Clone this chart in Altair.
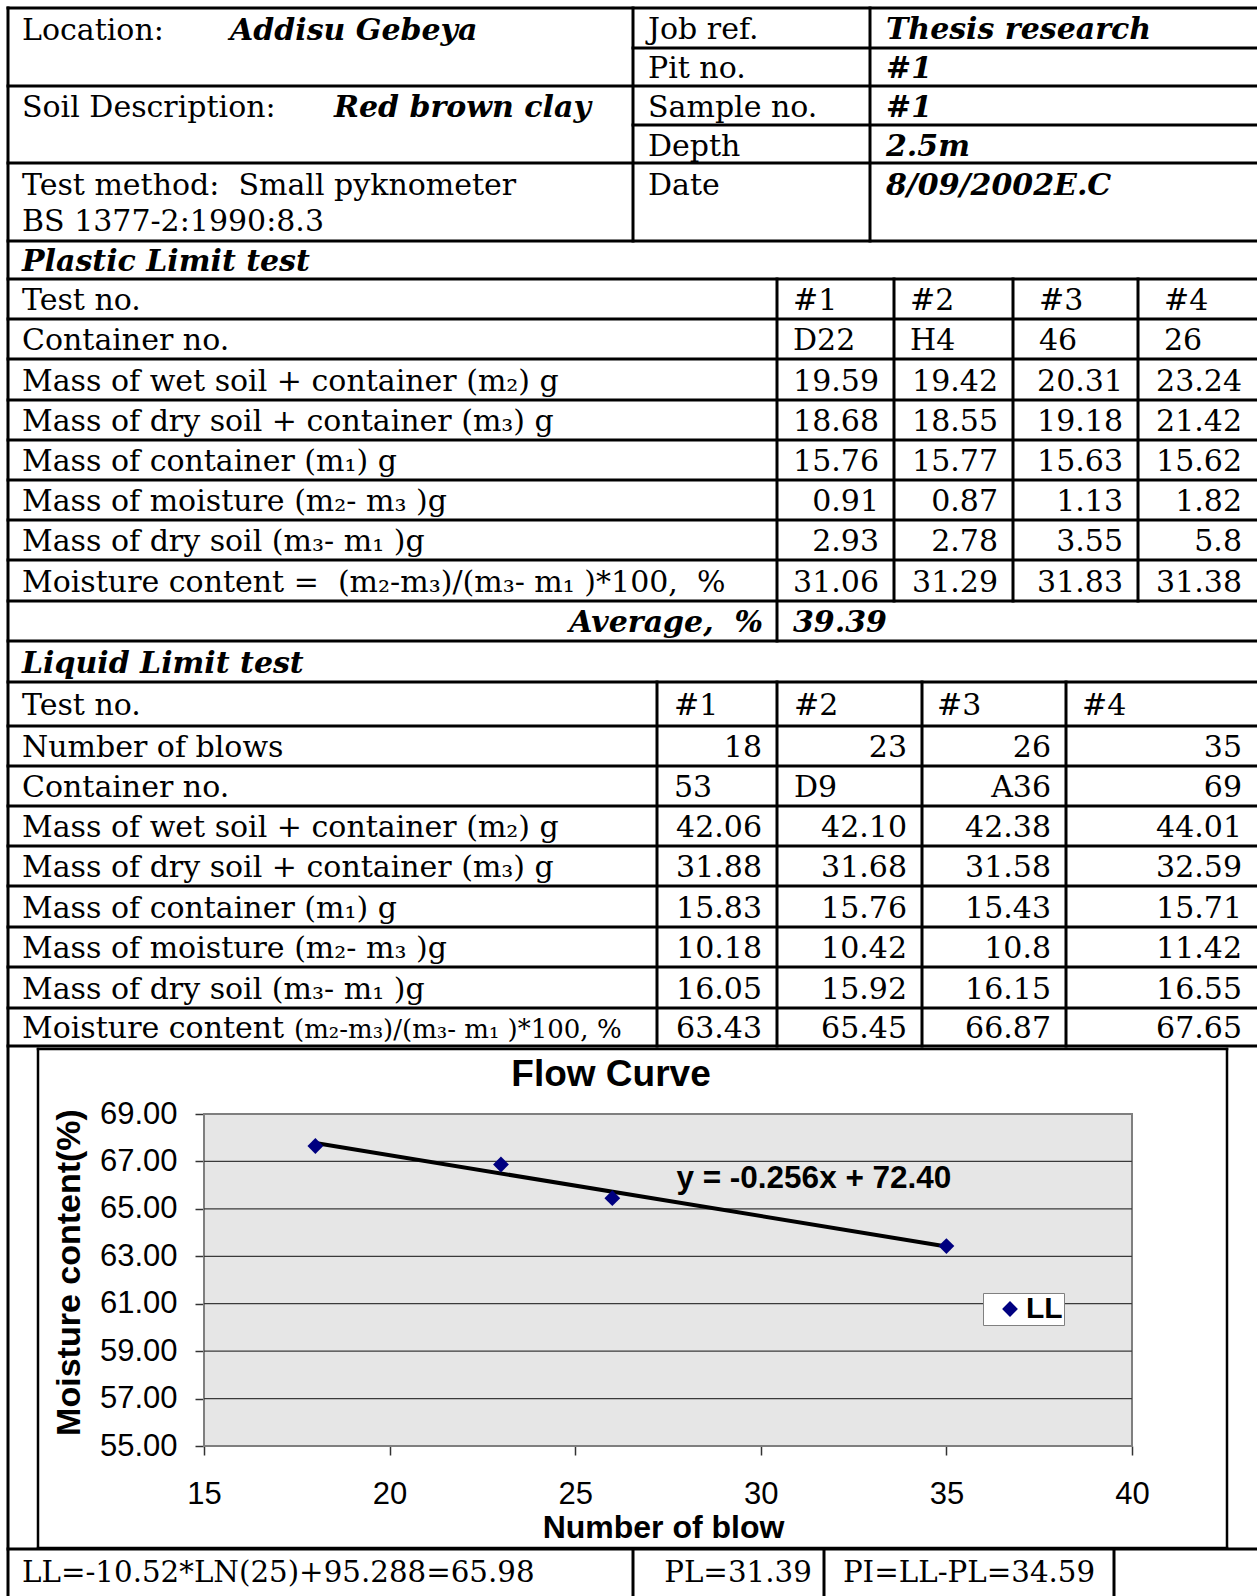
import altair as alt
import pandas as pd

# ---------------------------------------------------------------- data
location_label = "Location:"
location_value = "Addisu Gebeya"
soil_label = "Soil Description:"
soil_value = "Red brown clay"
method_lines = ["Test method:\u00a0 Small pyknometer", "BS 1377-2:1990:8.3"]
info_labels = ["Job ref.", "Pit no.", "Sample no.", "Depth", "Date"]
info_values = ["Thesis research", "#1", "#1", "2.5m", "8/09/2002E.C"]

pl_title = "Plastic Limit test"
pl_labels = [
    "Test no.",
    "Container no.",
    "Mass of wet soil + container (m\u2082) g",
    "Mass of dry soil + container (m\u2083) g",
    "Mass of container (m\u2081) g",
    "Mass of moisture (m\u2082- m\u2083 )g",
    "Mass of dry soil (m\u2083- m\u2081 )g",
    "Moisture content =\u00a0 (m\u2082-m\u2083)/(m\u2083- m\u2081 )*100,\u00a0 %",
]
pl_test_no = ["#1", "#2", "#3", "#4"]
pl_container = ["D22", "H4", "46", "26"]
pl_wet = ["19.59", "19.42", "20.31", "23.24"]
pl_dry = ["18.68", "18.55", "19.18", "21.42"]
pl_cont_mass = ["15.76", "15.77", "15.63", "15.62"]
pl_moisture = ["0.91", "0.87", "1.13", "1.82"]
pl_dry_soil = ["2.93", "2.78", "3.55", "5.8"]
pl_mc = ["31.06", "31.29", "31.83", "31.38"]
pl_average_label = "Average,\u00a0 %"
pl_average = "39.39"

ll_title = "Liquid Limit test"
ll_labels = [
    "Test no.",
    "Number of blows",
    "Container no.",
    "Mass of wet soil + container (m\u2082) g",
    "Mass of dry soil + container (m\u2083) g",
    "Mass of container (m\u2081) g",
    "Mass of moisture (m\u2082- m\u2083 )g",
    "Mass of dry soil (m\u2083- m\u2081 )g",
    "Moisture content",
]
ll_mc_formula = "(m\u2082-m\u2083)/(m\u2083- m\u2081 )*100, %"
ll_test_no = ["#1", "#2", "#3", "#4"]
ll_blows = ["18", "23", "26", "35"]
ll_container = ["53", "D9", "A36", "69"]
ll_wet = ["42.06", "42.10", "42.38", "44.01"]
ll_dry = ["31.88", "31.68", "31.58", "32.59"]
ll_cont_mass = ["15.83", "15.76", "15.43", "15.71"]
ll_moisture = ["10.18", "10.42", "10.8", "11.42"]
ll_dry_soil = ["16.05", "15.92", "16.15", "16.55"]
ll_mc = ["63.43", "65.45", "66.87", "67.65"]

chart_title = "Flow Curve"
x_title = "Number of blow"
y_title = "Moisture content(%)"
x_ticks = [15, 20, 25, 30, 35, 40]
y_ticks = [55, 57, 59, 61, 63, 65, 67, 69]
curve_blows = [18, 23, 26, 35]
curve_mc = [67.65, 66.87, 65.45, 63.43]
series_name = "LL"
trend_label = "y = -0.256x + 72.40"
footer = ["LL=-10.52*LN(25)+95.288=65.98", "PL=31.39", "PI=LL-PL=34.59"]

# ---------------------------------------------------------------- layout (px)
W, H = 1257, 1596
LEFT = 8
TXT = 22
HDR_COLS = [633, 870]
HDR_ROWS_FULL = [8, 86, 163, 241]
HDR_ROWS_RIGHT = [48, 125]
INFO_Y = [28, 67, 106, 145, 184]
PL_ROWS = [279, 319, 359, 400, 440, 480, 520, 560, 601, 641]
PL_COLS = [777, 894, 1013, 1138, W]
PL_LPAD = [16, 16, 26, 26]
LL_ROWS = [682, 726, 766, 806, 846, 886, 927, 967, 1008, 1046]
LL_COLS = [657, 777, 922, 1066, W]
LL_LPAD = [17, 17, 15, 16]
RPAD = 15
FOOT_Y = 1549
FOOT_COLS = [633, 824, 1114]
FRAME = (38, 1049, 1227, 1548)
PLOT = (204, 1114, 1132, 1446)   # left, top, right, bottom
SERIF = "DejaVu Serif"
SANS = "Liberation Sans"
FS = 30

# ---------------------------------------------------------------- table lines
rules = []
def hline(y, xa, xb, w=3):
    rules.append(dict(px=xa, px2=xb, py=y, py2=y, w=w))
def vline(x, ya, yb, w=3):
    rules.append(dict(px=x, px2=x, py=ya, py2=yb, w=w))

for y in HDR_ROWS_FULL:
    hline(y, LEFT, W)
for y in HDR_ROWS_RIGHT:
    hline(y, HDR_COLS[0], W)
for x in HDR_COLS:
    vline(x, HDR_ROWS_FULL[0], HDR_ROWS_FULL[-1])
vline(LEFT, HDR_ROWS_FULL[0], H)
for y in PL_ROWS:
    hline(y, LEFT, W)
vline(PL_COLS[0], PL_ROWS[0], PL_ROWS[-1])
for x in PL_COLS[1:-1]:
    vline(x, PL_ROWS[0], PL_ROWS[-2])
for y in LL_ROWS:
    hline(y, LEFT, W)
for x in LL_COLS[:-1]:
    vline(x, LL_ROWS[0], LL_ROWS[-1])
hline(FOOT_Y, LEFT, W)
for x in FOOT_COLS:
    vline(x, FOOT_Y, H)
fx0, fy0, fx1, fy1 = FRAME
hline(fy0, fx0, fx1, 2.5)
hline(fy1, fx0, fx1, 2.5)
vline(fx0, fy0, fy1, 2.5)
vline(fx1, fy0, fy1, 2.5)
rules_df = pd.DataFrame(rules)

# ---------------------------------------------------------------- table text
cells = []
def add(x, y, t, s):
    cells.append(dict(px=x, py=y, text=t, style=s))

add(TXT, 29, location_label, "l")
add(230, 29, location_value, "bil")
add(TXT, 106, soil_label, "l")
add(334, 106, soil_value, "bil")
add(TXT, 184, method_lines[0], "l")
add(TXT, 220, method_lines[1], "l")
for i in range(len(info_labels)):
    add(HDR_COLS[0] + 15, INFO_Y[i], info_labels[i], "l")
    add(HDR_COLS[1] + 16, INFO_Y[i], info_values[i], "bil")

add(TXT, (HDR_ROWS_FULL[-1] + PL_ROWS[0]) / 2, pl_title, "bil")
pl_vals = [pl_test_no, pl_container, pl_wet, pl_dry, pl_cont_mass,
           pl_moisture, pl_dry_soil, pl_mc]
for r, vals in enumerate(pl_vals):
    yc = (PL_ROWS[r] + PL_ROWS[r + 1]) / 2
    add(TXT, yc, pl_labels[r], "l")
    for c, v in enumerate(vals):
        if r < 2:
            add(PL_COLS[c] + PL_LPAD[c], yc, v, "l")
        else:
            add(PL_COLS[c + 1] - RPAD, yc, v, "r")
yc = (PL_ROWS[-2] + PL_ROWS[-1]) / 2
add(PL_COLS[0] - 14, yc, pl_average_label, "bir")
add(PL_COLS[0] + 16, yc, pl_average, "bil")

add(TXT, (PL_ROWS[-1] + LL_ROWS[0]) / 2, ll_title, "bil")
ll_vals = [ll_test_no, ll_blows, ll_container, ll_wet, ll_dry, ll_cont_mass,
           ll_moisture, ll_dry_soil, ll_mc]
container_align = ["l", "l", "r", "r"]
for r, vals in enumerate(ll_vals):
    yc = (LL_ROWS[r] + LL_ROWS[r + 1]) / 2
    add(TXT, yc, ll_labels[r], "l")
    for c, v in enumerate(vals):
        al = "l" if r == 0 else ("r" if r != 2 else container_align[c])
        if al == "l":
            add(LL_COLS[c] + LL_LPAD[c], yc, v, "l")
        else:
            add(LL_COLS[c + 1] - RPAD, yc, v, "r")
    if r == len(ll_vals) - 1:
        add(294, yc + 1, ll_mc_formula, "small")

add(611, 1075, chart_title, "title")
fyc = (FOOT_Y + H) / 2 - 2
add(TXT, fyc, footer[0], "fl")
add(738, fyc, footer[1], "fc")
add(969, fyc, footer[2], "fc")
cells_df = pd.DataFrame(cells)

px_x = alt.X("px:Q", scale=alt.Scale(domain=[0, W], nice=False, zero=False), axis=None)
px_y = alt.Y("py:Q", scale=alt.Scale(domain=[0, H], reverse=True, nice=False, zero=False), axis=None)

rule_layer = alt.Chart(rules_df).mark_rule(color="black", strokeCap="square").encode(
    x=px_x, x2="px2:Q", y=px_y, y2="py2:Q",
    strokeWidth=alt.StrokeWidth("w:Q", scale=None),
)

styles = {
    "l": dict(font=SERIF, fontSize=FS, align="left", dy=2),
    "r": dict(font=SERIF, fontSize=FS, align="right", dy=2),
    "fl": dict(font=SERIF, fontSize=29.3, align="left", dy=2),
    "fc": dict(font=SERIF, fontSize=29.3, align="center", dy=2),
    "bil": dict(font=SERIF, fontSize=FS, align="left", fontStyle="italic", fontWeight="bold", dy=2),
    "bir": dict(font=SERIF, fontSize=FS, align="right", fontStyle="italic", fontWeight="bold", dy=2),
    "small": dict(font=SERIF, fontSize=26, align="left", dy=2),
    "title": dict(font=SANS, fontSize=37, align="center", fontWeight="bold"),
}
text_layers = []
for key, st in styles.items():
    text_layers.append(
        alt.Chart(cells_df).transform_filter(alt.datum.style == key)
        .mark_text(baseline="middle", color="black", **st)
        .encode(x=px_x, y=px_y, text="text:N")
    )
table_layer = alt.layer(rule_layer, *text_layers)

# ---------------------------------------------------------------- flow curve
x0, y0, x1, y1 = PLOT
xppu = (x1 - x0) / (x_ticks[-1] - x_ticks[0])
yppu = (y1 - y0) / (y_ticks[-1] - y_ticks[0])
xdom = [x_ticks[0] - x0 / xppu, x_ticks[-1] + (W - x1) / xppu]
ydom = [y_ticks[0] - (H - y1) / yppu, y_ticks[-1] + y0 / yppu]
xs = alt.Scale(domain=xdom, nice=False, zero=False)
ys = alt.Scale(domain=ydom, nice=False, zero=False)

xaxis = alt.Axis(
    orient="bottom", offset=-(H - y1), values=x_ticks, format="d",
    domain=False, grid=False, tickSize=9, tickColor="#333333", tickWidth=1.5,
    labelFont=SANS, labelFontSize=31, labelColor="black", labelPadding=24,
    labelFlush=False, labelOverlap=False,
    title=x_title, titleFont=SANS, titleFontSize=32, titleFontWeight="bold",
    titleColor="black", titleX=663, titleY=81, titleAlign="center", titleBaseline="middle",
)
yaxis = alt.Axis(
    orient="left", offset=-x0, values=y_ticks, format=".2f",
    domain=False, grid=False, tickSize=9, tickColor="#333333", tickWidth=1.5,
    labelFont=SANS, labelFontSize=31, labelColor="black", labelPadding=18,
    labelFlush=False, labelOverlap=False,
    title=y_title, titleFont=SANS, titleFontSize=34, titleFontWeight="bold",
    titleColor="black", titleAngle=270, titleX=69 - x0, titleY=1272,
    titleAlign="center", titleBaseline="middle",
)
X = alt.X("blows:Q", scale=xs, axis=xaxis)
Y = alt.Y("mc:Q", scale=ys, axis=yaxis)

bg_df = pd.DataFrame({"blows": [x_ticks[0]], "blows2": [x_ticks[-1]],
                      "mc": [y_ticks[0]], "mc2": [y_ticks[-1]]})
bg = alt.Chart(bg_df).mark_rect(fill="#e6e6e6", stroke="#7f7f7f", strokeWidth=2).encode(
    x=X, x2="blows2:Q", y=Y, y2="mc2:Q")

grid_df = pd.DataFrame({"mc": y_ticks[1:-1], "blows": x_ticks[0], "blows2": x_ticks[-1]})
grid = alt.Chart(grid_df).mark_rule(color="#3a3a3a", strokeWidth=1.2).encode(
    x=X, x2="blows2:Q", y=Y)

pts_df = pd.DataFrame({"blows": curve_blows, "mc": curve_mc, "series": series_name})
trend = alt.Chart(pts_df).transform_regression("blows", "mc").mark_line(
    color="black", strokeWidth=4).encode(x=X, y=Y)
points = alt.Chart(pts_df).mark_point(shape="diamond", filled=True, size=250, opacity=1).encode(
    x=X, y=Y,
    color=alt.Color("series:N", scale=alt.Scale(domain=[series_name], range=["#000080"]),
                    legend=alt.Legend(
                        orient="none", legendX=983, legendY=1293, title=None,
                        fillColor="white", strokeColor="#808080", padding=1,
                        labelFont=SANS, labelFontSize=30, labelFontWeight="bold",
                        labelColor="black", symbolType="diamond", symbolSize=250,
                        symbolOffset=11, labelOffset=1, symbolStrokeWidth=0)),
)
eq_df = pd.DataFrame({"blows": [31.43], "mc": [66.26], "label": [trend_label]})
eq = alt.Chart(eq_df).mark_text(font=SANS, fontSize=31.5, fontWeight="bold", color="black",
                                align="center", baseline="middle").encode(x=X, y=Y, text="label:N")

scatter_layer = alt.layer(bg, grid, trend, points, eq)

chart = (
    alt.layer(table_layer, scatter_layer)
    .resolve_scale(x="independent", y="independent")
    .properties(width=W, height=H, padding=0, autosize="none", background="white")
    .configure_view(stroke=None)
)

chart.save("out.html", embed_options={"renderer": "svg", "actions": False})
